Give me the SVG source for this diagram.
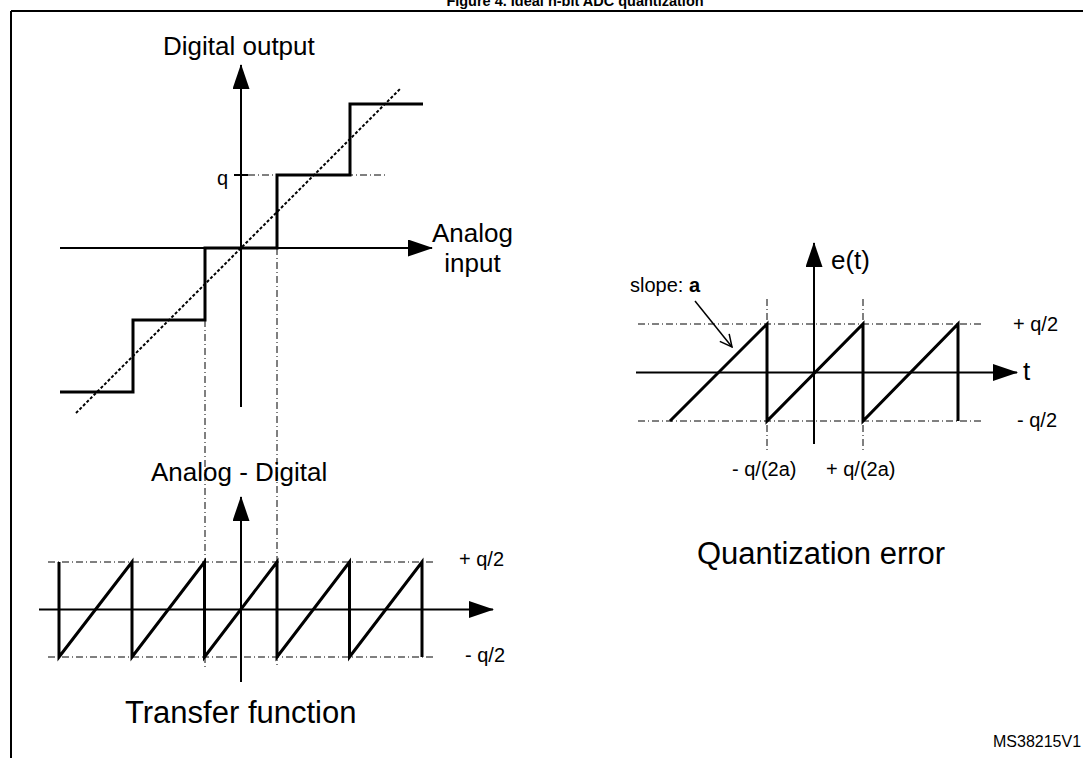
<svg xmlns="http://www.w3.org/2000/svg" width="1083" height="758" viewBox="0 0 1083 758">
<style>
text{font-family:"Liberation Sans",Arial,sans-serif;fill:#000}
.ax{stroke:#000;stroke-width:2;fill:none}
.thk{stroke:#000;stroke-width:3;fill:none;stroke-linejoin:miter}
.dd{stroke:#000;stroke-width:1;fill:none;stroke-dasharray:7,3,1,3}
.dot{stroke:#000;stroke-width:2;fill:none;stroke-dasharray:3,2}
.t26{font-size:26px}
.t20{font-size:20px}
.t31{font-size:31px}
</style>
<defs>
<marker id="arr" viewBox="0 0 25 17" refX="24" refY="8.5" markerWidth="25" markerHeight="17" markerUnits="userSpaceOnUse" orient="auto">
<path d="M0,0 L25,8.5 L0,17 z" fill="#000"/>
</marker>
<marker id="open" viewBox="0 0 14 14" refX="13" refY="7" markerWidth="14" markerHeight="14" markerUnits="userSpaceOnUse" orient="auto">
<path d="M1,1 L13,7 L1,13" fill="none" stroke="#000" stroke-width="1.5"/>
</marker>
</defs>
<rect width="1083" height="758" fill="#fff"/>
<g id="frame">
<text x="575" y="6" text-anchor="middle" style="font-size:14.5px;font-weight:bold">Figure 4. Ideal n-bit ADC quantization</text>
<path d="M11,11 H1083 M11,11 V758" stroke="#000" stroke-width="2" fill="none"/>
</g>
<g id="connectors">
<line class="dd" x1="205" y1="320" x2="205" y2="667"/>
<line class="dd" x1="277" y1="248" x2="277" y2="667"/>
<line class="dd" x1="248" y1="175" x2="386" y2="175"/>
<line class="dd" x1="48" y1="562" x2="433" y2="562"/>
<line class="dd" x1="48" y1="657" x2="433" y2="657"/>
<line class="dd" x1="638" y1="324" x2="983" y2="324"/>
<line class="dd" x1="638" y1="421" x2="983" y2="421"/>
<line class="dd" x1="767" y1="299" x2="767" y2="451"/>
<line class="dd" x1="863" y1="299" x2="863" y2="451"/>
</g>
<g id="transfer-plot">
<line class="ax" x1="241" y1="407" x2="241" y2="65" marker-end="url(#arr)"/>
<line class="ax" x1="60" y1="248" x2="432" y2="248" marker-end="url(#arr)"/>
<line class="ax" x1="234" y1="175" x2="248" y2="175"/>
<line class="dot" x1="76" y1="413" x2="401" y2="88"/>
<polyline class="thk" points="60,392 133,392 133,320 205,320 205,248 277,248 277,175 350,175 350,104 423,104"/>
<text class="t26" x="163" y="55">Digital output</text>
<text class="t20" x="217" y="185">q</text>
<text class="t26" x="472.5" y="242" text-anchor="middle">Analog</text>
<text class="t26" x="472.5" y="272" text-anchor="middle">input</text>
</g>
<g id="difference-plot">
<line class="ax" x1="241" y1="682" x2="241" y2="497" marker-end="url(#arr)"/>
<line class="ax" x1="39" y1="609.5" x2="493" y2="609.5" marker-end="url(#arr)"/>
<polyline class="thk" points="59,562 59,657 132,562 132,657 204.5,562 204.5,657 277,562 277,657 349.5,562 349.5,657 422,562 422,657"/>
<text class="t26" x="151" y="481">Analog - Digital</text>
<text class="t20" x="459" y="566">+ q/2</text>
<text class="t20" x="465" y="662">- q/2</text>
<text class="t31" x="125" y="723">Transfer function</text>
</g>
<g id="error-plot">
<line class="ax" x1="814" y1="444" x2="814" y2="243" marker-end="url(#arr)"/>
<line class="ax" x1="636" y1="372.5" x2="1017" y2="372.5" marker-end="url(#arr)"/>
<polyline class="thk" points="670,421 767,324 767,421 863,324 863,421 958,324 958,421"/>
<line x1="695" y1="301" x2="732" y2="347" stroke="#000" stroke-width="1.5" marker-end="url(#open)"/>
<text class="t20" x="630" y="292">slope: <tspan font-weight="bold">a</tspan></text>
<text class="t26" x="831" y="269">e(t)</text>
<text class="t26" x="1023" y="380">t</text>
<text class="t20" x="1013" y="331">+ q/2</text>
<text class="t20" x="1017" y="427">- q/2</text>
<text class="t20" x="732" y="476">- q/(2a)</text>
<text class="t20" x="826" y="476">+ q/(2a)</text>
<text class="t31" x="697" y="564">Quantization error</text>
</g>
<g id="ref">
<text x="993" y="747" style="font-size:16px">MS38215V1</text>
</g>
</svg>
